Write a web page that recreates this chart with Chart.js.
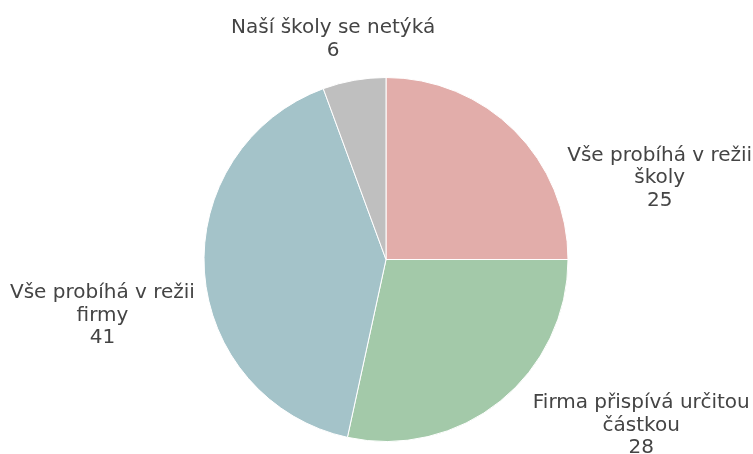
<!DOCTYPE html>
<html><head><meta charset="utf-8">
<script src="https://cdn.jsdelivr.net/npm/chart.js@4/dist/chart.umd.min.js"></script>
<style>html,body{margin:0;padding:0;background:#fff}#wrap{width:753px;height:454px}</style>
</head><body><div id="wrap"><canvas id="c" width="753" height="454"></canvas></div>
<script>
const categories = [["Vše probíhá v režii", "školy"], ["Firma přispívá určitou", "částkou"], ["Vše probíhá v režii", "firmy"], ["Naší školy se netýká"]];
// slice shares (labels show the rounded values)
const values = [25.0, 28.4, 41.0, 5.6];
const sliceColors = ["#e2adaa", "#a3c9a9", "#a4c3c9", "#bfbfbf"];
// label anchor offsets relative to the slice mid-point on the rim (layout, not data)
const labelOffsets = [[145, 30], [141, 7], [-102, 26], [-21, -47]];

const outsideLabels = {
  id: 'outsideLabels',
  afterDatasetsDraw(chart) {
    const ctx = chart.ctx;
    const meta = chart.getDatasetMeta(0);
    ctx.save();
    ctx.font = '20px "DejaVu Sans", Verdana, sans-serif';
    ctx.fillStyle = '#444444';
    ctx.textAlign = 'center';
    ctx.textBaseline = 'alphabetic';
    const lh = 22.5;
    meta.data.forEach((arc, i) => {
      const p = arc.getProps(['x', 'y', 'startAngle', 'endAngle', 'outerRadius'], true);
      const mid = (p.startAngle + p.endAngle) / 2;
      const ax = p.x + Math.cos(mid) * p.outerRadius + labelOffsets[i][0];
      const ay = p.y + Math.sin(mid) * p.outerRadius + labelOffsets[i][1];
      const lines = categories[i].concat([String(Math.round(chart.data.datasets[0].data[i]))]);
      lines.forEach((t, k) => ctx.fillText(t, ax, ay + k * lh));
    });
    ctx.restore();
  }
};

new Chart(document.getElementById('c'), {
  type: 'pie',
  data: {
    labels: categories.map(l => l.join(' ')),
    datasets: [{
      data: values,
      backgroundColor: sliceColors,
      borderColor: '#ffffff',
      borderWidth: 1
    }]
  },
  options: {
    responsive: false,
    animation: false,
    layout: { padding: { top: 77, bottom: 12, left: 100, right: 81 } },
    plugins: { legend: { display: false }, tooltip: { enabled: false } }
  },
  plugins: [outsideLabels]
});
</script>
</body></html>
